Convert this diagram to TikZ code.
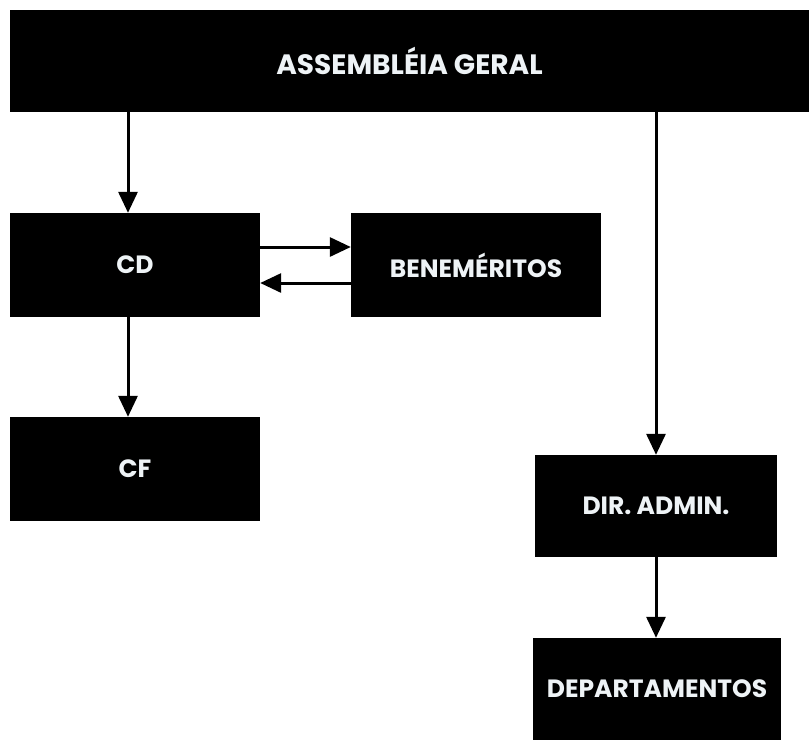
\documentclass[tikz,border=0pt]{standalone}
\usepackage{fontspec}
\setmainfont{Poppins}
\usepackage{tikz}
\usetikzlibrary{positioning}
\usetikzlibrary{arrows.meta}
\definecolor{boxtext}{HTML}{EEF3F6}

\begin{document}
\begin{tikzpicture}
        [x=1pt,y=-1pt,
         orgbox/.style={fill=black,draw=none,text=boxtext,font=\bfseries\fontsize{25}{28}\selectfont,
                        minimum width=250pt,minimum height=104pt,inner sep=0pt},
         arr/.style={line width=3pt,-{Triangle[length=21pt,width=19pt]}}]
      \useasboundingbox (0,0) rectangle (809,740);
      \node[orgbox,minimum width=799pt,minimum height=102pt,font=\bfseries\fontsize{28}{32}\selectfont] (AG) at (409.5,61) {ASSEMBLÉIA GERAL};
      \node[orgbox] (CD)  at (135,265) {CD};
      \node[orgbox] (BEN) at (476,265) {BENEMÉRITOS};
      \node[orgbox] (CF)  at (135,469) {CF};
      \node[orgbox,minimum width=242pt,minimum height=102pt] (DIR) at (656,506) {DIR. ADMIN.};
      \node[orgbox,minimum width=248pt,minimum height=102pt] (DEP) at (657,689) {DEPARTAMENTOS};

      \draw[arr] ([xshift=-7pt]CD.north |- AG.south) -- ([xshift=-7pt]CD.north);
      \draw[arr] (DIR.north |- AG.south) -- (DIR.north);
      \draw[arr] ([xshift=-7pt]CD.south) -- ([xshift=-7pt]CF.north);
      \draw[arr] (DIR.south) -- (DIR.south |- DEP.north);
      \draw[arr] ([yshift=18pt]CD.east) -- ([yshift=18pt]BEN.west);
      \draw[arr] ([yshift=-18pt]BEN.west) -- ([yshift=-18pt]CD.east);
\end{tikzpicture}
\end{document}
